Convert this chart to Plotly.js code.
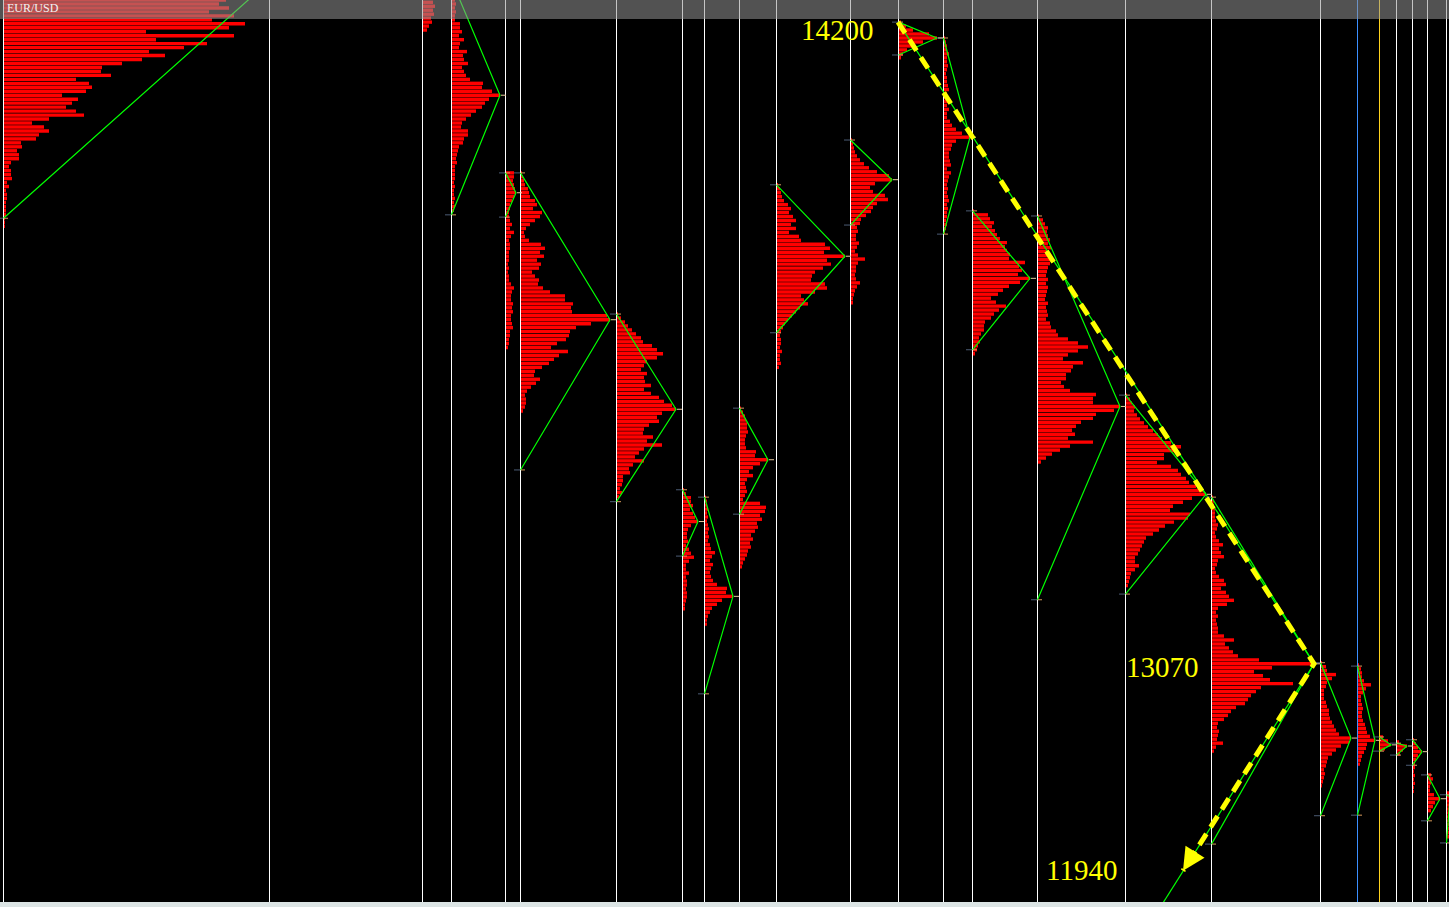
<!DOCTYPE html>
<html><head><meta charset="utf-8">
<script src="https://cdn.plot.ly/plotly-3.0.1.min.js"></script>
<style>html,body{margin:0;padding:0;background:#000;overflow:hidden}#chart{width:1449px;height:907px}</style>
</head><body><div id="chart"></div>
<script>
// price step between two rows of a volume profile
const STEP = 7;

// session separators (bar index)
const sessionX = [3, 269, 422, 451, 505, 520, 616, 682, 704, 739, 776, 850, 898, 943, 972, 1037, 1125, 1211, 1320, 1357, 1379, 1396, 1412, 1427, 1446];
const sessionColor = ['#ffffff','#ffffff','#ffffff','#ffffff','#ffffff','#ffffff','#ffffff','#ffffff','#ffffff','#ffffff','#ffffff','#ffffff','#ffffff','#ffffff','#ffffff','#ffffff','#ffffff','#ffffff','#ffffff','#3b8fff','#ffd21e','#ffffff','#ffffff','#ffffff','#ffffff'];

// volume profiles: start of session, price of first row, high / low of the session triangle
const profileStart = [3, 422, 451, 505, 520, 616, 682, 704, 739, 776, 850, 898, 943, 972, 1037, 1125, 1211, 1320, 1357, 1379, 1396, 1412, 1427, 1446];
const profileTop = [14268, 14236, 14240, 13935, 13935, 13686, 13376, 13363, 13520, 13914, 13993, 14201, 14173, 13868, 13859, 13543, 13363, 13071, 13067, 12940, 12931, 12935, 12873, 12841];
const profileHi  = [14311, null, 14275, 13935, 13935, 13686, 13376, 13363, 13520, 13914, 13993, 14201, 14173, 13868, 13859, 13543, 13363, 13071, 13065, 12940, 12929, 12935, 12873, 12838];
const profileLo  = [13855, null, 13861, 13857, 13411, 13355, 13259, 13016, 13333, 13653, 13843, 14143, 13827, 13623, 13182, 13192, 12751, 12801, 12802, 12915, 12908, 12890, 12792, 12753];

const volP1 = [262,250,235,240,222,215,225,205,230,208,241,225,142,230,152,203,180,145,161,138,118,98,97,107,72,85,88,82,58,74,68,62,72,80,45,28,40,45,35,32,17,18,13,15,15,7,5,7,7,8,3,5,2,3,3,2,2,2,2,1,1,1];
const volP2 = [10,12,10,11,8,9,6,4];
const volP3 = [3,4,3,4,3,3,8,8,10,7,12,8,7,15,11,12,16,10,12,14,18,31,30,40,48,37,33,30,24,19,14,10,9,16,16,12,11,7,6,5,4,5,3,3,3,3,2,3,2,2,3,2,3,2];
const volP4 = [8,8,7,8,9,10,8,6,4,4,3,3,4,6,4,8,5,3,4,4,3,3,3,2,3,2,3,3,5,8,6,5,5,7,6,7,5,5,6,7,4,4,3,3,2];
const volP5 = [1,2,3,4,7,8,9,14,16,12,21,19,14,9,5,3,4,8,20,24,19,23,16,20,18,11,14,18,17,22,29,44,44,52,50,51,86,89,70,55,49,48,45,36,30,47,38,33,28,21,14,13,19,15,10,6,4,5,5,4,2];
const volP6 = [1,4,8,11,15,19,24,26,35,40,46,40,30,27,24,30,27,28,34,27,34,42,47,55,59,45,40,42,32,27,26,36,30,45,27,22,18,27,16,12,13,6,6,5,3,5,2];
const volP7 = [1,3,8,8,10,7,10,12,15,8,5,4,4,5,3,6,8,11,6,3,3,6,3,4,4,3,4,4,3,2,2];
const volP8 = [1,2,2,3,2,3,2,3,4,3,4,3,5,6,10,7,5,8,6,5,6,8,12,22,21,28,17,12,7,5,3,2,2];
const volP9 = [1,3,5,6,7,7,8,6,5,5,6,16,15,28,20,13,9,13,7,5,6,7,5,3,20,26,25,20,22,17,18,15,11,13,10,11,8,7,5,3,2];
const volP10 = [1,3,4,5,7,11,14,12,16,19,14,19,12,22,24,48,53,47,68,50,54,46,38,35,34,48,50,38,24,27,31,23,19,15,11,8,6,4,3,4,4,3,5,3,3,4,2];
const volP11 = [1,2,3,4,6,9,13,18,26,38,41,24,19,22,34,37,26,22,20,15,10,9,6,7,5,5,8,6,4,7,14,7,5,5,4,5,9,6,4,3,2,2];
const volP12 = [2,7,14,30,38,24,15,8,4,2];
const volP13 = [1,2,3,3,5,3,3,4,3,2,3,3,4,5,3,3,4,3,5,3,3,6,8,12,18,26,12,8,7,5,5,6,7,3,7,5,4,3,4,3,4,5,3,4,3,3,2,3,2,1];
const volP14 = [1,15,17,21,19,22,24,27,34,32,34,37,36,52,46,49,45,57,47,36,30,25,18,23,33,26,21,18,12,11,11,8,6,7,5,4,2];
const volP15 = [1,5,7,10,9,10,12,10,13,9,10,15,12,10,9,8,10,8,10,9,8,7,10,8,9,10,8,12,13,18,20,30,40,50,40,30,25,45,35,33,28,28,23,26,32,58,55,55,82,76,58,55,43,38,34,37,30,55,32,22,14,8,3];
const volP16 = [1,4,6,9,8,11,14,18,22,27,32,36,45,55,48,38,38,31,45,52,55,60,63,70,77,80,66,57,47,44,64,62,48,39,33,27,20,18,16,14,12,9,9,13,9,5,4,3,2];
const volP17 = [1,2,2,3,3,3,4,6,5,3,4,7,11,7,9,12,6,5,3,4,7,12,14,9,14,17,22,15,6,4,6,4,5,6,6,12,22,13,17,21,26,47,102,60,42,51,58,81,49,44,39,36,33,24,19,16,12,6,5,7,6,5,11,4,2];
const volP18 = [1,5,6,15,11,6,5,3,3,3,5,6,8,8,9,11,13,15,18,30,28,20,15,11,7,6,5,3,4,3,2,1];
const volP19 = [1,3,4,4,6,13,8,5,3,3,4,5,4,4,5,7,8,9,12,17,9,8,6,4,3,2];
const volP20 = [3,8,11,5];
const volP21 = [2,10,6,3];
const volP22 = [1,3,5,9,5,3,2,2,1,2,1,2,1,1];
const volP23 = [3,5,3,2,2,6,12,7,5,3];
const volP24 = [2,3,3,3,3,3,3,3,3,3,3,2];
const profileVol = [volP1,volP2,volP3,volP4,volP5,volP6,volP7,volP8,volP9,volP10,volP11,volP12,volP13,volP14,volP15,volP16,volP17,volP18,volP19,volP20,volP21,volP22,volP23,volP24];

// connecting trend lines (x0, price0, x1, price1)
const trendX0 = [898, 1206, 1314];
const trendY0 = [14201, 13368, 13069];
const trendX1 = [1206, 1314, 1120];
const trendY1 = [13368, 13069, 12527];

// measured move (yellow dashed arrow)
const moveX = [898, 1314, 1183];
const moveY = [14201, 13069, 12704];
const labelText = ['14200', '13070', '11940'];
const labelX = [876, 1201, 1119];
const labelY = [14187, 13063, 12705];

const barX = [], barY = [], barBase = [];
const gx = [], gy = [];
const tlx = [], tly = [], trx = [], try_ = [], tpx = [], tpy = [];

profileStart.forEach((s, i) => {
  const v = profileVol[i];
  let mi = 0;
  v.forEach((len, j) => {
    barX.push(len); barY.push(profileTop[i] - j * STEP); barBase.push(s + 1);
    if (len > v[mi]) mi = j;
  });
  const pocY = profileTop[i] - mi * STEP, pocX = s + 1 + v[mi];
  if (profileHi[i] !== null) {
    gx.push(s + 0.5, pocX, s + 0.5, null); gy.push(profileHi[i], pocY, profileLo[i], null);
    [profileHi[i], profileLo[i]].forEach(p => {
      tlx.push(s - 6, s, null); tly.push(p, p, null);
      trx.push(s + 1, s + 5, null); try_.push(p, p, null);
    });
    tpx.push(pocX + 1, pocX + 6, null); tpy.push(pocY, pocY, null);
  }
});
trendX0.forEach((x, i) => { gx.push(x, trendX1[i], null); gy.push(trendY0[i], trendY1[i], null); });

const traces = [
  {type: 'bar', orientation: 'h', x: barX, y: barY, base: barBase, width: 6.0,
   marker: {color: '#ff0000', line: {width: 0}}, hoverinfo: 'skip'},
  {type: 'scatter', mode: 'lines', x: gx, y: gy, line: {color: '#00ff00', width: 1.2}, hoverinfo: 'skip'},
  {type: 'scatter', mode: 'lines', x: tlx, y: tly, line: {color: '#4c5c74', width: 1}, hoverinfo: 'skip'},
  {type: 'scatter', mode: 'lines', x: trx, y: try_, line: {color: '#d89a5a', width: 1}, hoverinfo: 'skip'},
  {type: 'scatter', mode: 'lines', x: tpx, y: tpy, line: {color: '#e8c8a0', width: 1}, hoverinfo: 'skip'},
  {type: 'scatter', mode: 'lines', x: moveX, y: moveY, line: {color: '#ffff00', width: 5, dash: '13px,8px'}, hoverinfo: 'skip'}
];

const shapes = sessionX.map((x, i) => ({type: 'line', layer: 'below', xref: 'x', yref: 'paper', x0: x + 0.5, x1: x + 0.5, y0: 0, y1: 1,
  line: {color: sessionColor[i], width: 1}}));
shapes.push({type: 'rect', layer: 'above', xref: 'paper', yref: 'paper', x0: 0, x1: 1, y0: 1 - 19 / 907, y1: 1,
  fillcolor: 'rgba(150,150,150,0.55)', line: {width: 0}});
shapes.push({type: 'rect', layer: 'above', xref: 'paper', yref: 'paper', x0: 0, x1: 1, y0: 0, y1: 5 / 907,
  fillcolor: '#dce4e4', line: {width: 0}});

const annotations = labelText.map((t, i) => ({x: labelX[i], y: labelY[i], xref: 'x', yref: 'y', text: t, showarrow: false,
  xanchor: 'right', yanchor: 'middle', font: {family: 'Liberation Serif, Times New Roman, serif', size: 29, color: '#ffff00'}}));
const n = moveX.length;
annotations.push({x: moveX[n - 1], y: moveY[n - 1], xref: 'x', yref: 'y',
  ax: moveX[n - 1] + 0.1 * (moveX[n - 2] - moveX[n - 1]), ay: moveY[n - 1] + 0.1 * (moveY[n - 2] - moveY[n - 1]),
  axref: 'x', ayref: 'y', text: '', showarrow: true, arrowhead: 2, arrowsize: 0.9, arrowwidth: 5, arrowcolor: '#ffff00', standoff: 0});
annotations.push({x: 5 / 1449, y: 1 - 8 / 907, xref: 'paper', yref: 'paper', text: 'EUR/USD', showarrow: false,
  xanchor: 'left', yanchor: 'middle', font: {family: 'Liberation Serif, Times New Roman, serif', size: 12, color: '#f2f2f2'}});

const layout = {
  width: 1449, height: 907, margin: {l: 0, r: 0, t: 0, b: 0, pad: 0},
  paper_bgcolor: '#000000', plot_bgcolor: '#000000', showlegend: false, barmode: 'overlay',
  xaxis: {range: [0, 1449], visible: false, fixedrange: true},
  yaxis: {range: [12640, 14240], visible: false, fixedrange: true},
  shapes: shapes, annotations: annotations
};
Plotly.newPlot('chart', traces, layout, {displayModeBar: false, staticPlot: true});
</script></body></html>
